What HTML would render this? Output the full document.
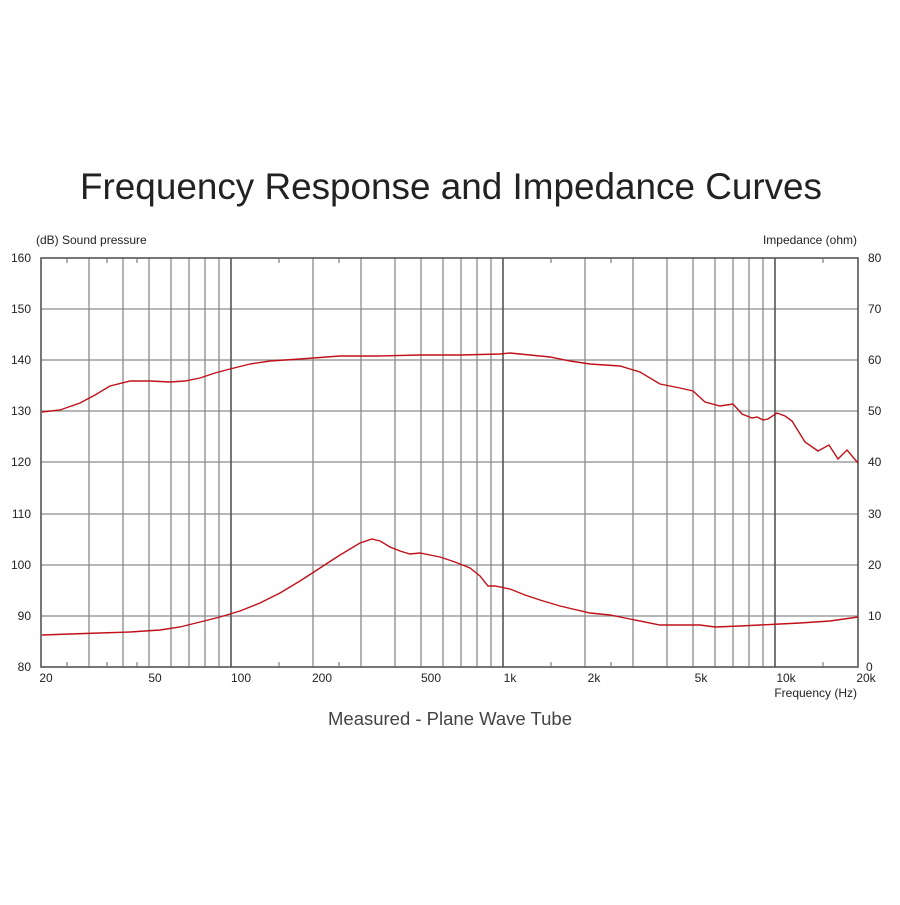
<!DOCTYPE html>
<html><head><meta charset="utf-8"><style>
body{margin:0;background:#fff;width:900px;height:900px;overflow:hidden}
</style></head><body>
<svg width="900" height="900" xmlns="http://www.w3.org/2000/svg" font-family="Liberation Sans, Arial, sans-serif">
<rect width="900" height="900" fill="#fff"/>
<text x="451" y="199" font-size="37" text-anchor="middle" fill="#222" textLength="742" lengthAdjust="spacingAndGlyphs">Frequency Response and Impedance Curves</text>
<g stroke="#8a8a8a" stroke-width="1.3">
<line x1="41" y1="309" x2="858" y2="309"/><line x1="41" y1="360" x2="858" y2="360"/>
<line x1="41" y1="411" x2="858" y2="411"/><line x1="41" y1="462" x2="858" y2="462"/>
<line x1="41" y1="514" x2="858" y2="514"/><line x1="41" y1="565" x2="858" y2="565"/>
<line x1="41" y1="616" x2="858" y2="616"/>
<line x1="89" y1="258" x2="89" y2="667"/><line x1="123" y1="258" x2="123" y2="667"/><line x1="149" y1="258" x2="149" y2="667"/><line x1="171" y1="258" x2="171" y2="667"/><line x1="189" y1="258" x2="189" y2="667"/><line x1="205" y1="258" x2="205" y2="667"/><line x1="219" y1="258" x2="219" y2="667"/>
<line x1="313" y1="258" x2="313" y2="667"/><line x1="361" y1="258" x2="361" y2="667"/><line x1="395" y1="258" x2="395" y2="667"/><line x1="421" y1="258" x2="421" y2="667"/><line x1="443" y1="258" x2="443" y2="667"/><line x1="461" y1="258" x2="461" y2="667"/><line x1="477" y1="258" x2="477" y2="667"/><line x1="491" y1="258" x2="491" y2="667"/>
<line x1="585" y1="258" x2="585" y2="667"/><line x1="633" y1="258" x2="633" y2="667"/><line x1="667" y1="258" x2="667" y2="667"/><line x1="693" y1="258" x2="693" y2="667"/><line x1="715" y1="258" x2="715" y2="667"/><line x1="733" y1="258" x2="733" y2="667"/><line x1="749" y1="258" x2="749" y2="667"/><line x1="763" y1="258" x2="763" y2="667"/>
</g>
<g stroke="#555" stroke-width="1.6">
<line x1="231" y1="258" x2="231" y2="667"/><line x1="503" y1="258" x2="503" y2="667"/><line x1="775" y1="258" x2="775" y2="667"/>
<rect x="41" y="258" width="817" height="409" fill="none"/>
</g>
<g stroke="#666" stroke-width="1">
<line x1="67" y1="258" x2="67" y2="263"/><line x1="107" y1="258" x2="107" y2="263"/><line x1="137" y1="258" x2="137" y2="263"/>
<line x1="67" y1="667" x2="67" y2="662"/><line x1="107" y1="667" x2="107" y2="662"/><line x1="137" y1="667" x2="137" y2="662"/>
<line x1="279" y1="258" x2="279" y2="263"/><line x1="339" y1="258" x2="339" y2="263"/><line x1="279" y1="667" x2="279" y2="662"/><line x1="339" y1="667" x2="339" y2="662"/>
<line x1="551" y1="258" x2="551" y2="263"/><line x1="611" y1="258" x2="611" y2="263"/><line x1="551" y1="667" x2="551" y2="662"/><line x1="611" y1="667" x2="611" y2="662"/>
<line x1="823" y1="258" x2="823" y2="263"/><line x1="823" y1="667" x2="823" y2="662"/>
</g>
<g fill="none" stroke="#c0101a" stroke-width="1.4">
<polyline points="42,412 60,410 80,403 95,395 110,386 130,381 150,381 170,382 185,381 200,378 215,373 230,369 250,364 270,361 300,359 340,356 380,356 420,355 460,355 500,354 510,353 530,355 550,357 570,361 590,364 620,366 640,372 660,384 680,388 693,391 705,402 720,406 733,404 742,414 752,418 757,417 763,420 768,419 777,413 785,416 792,421 805,442 818,451 829,445 838,459 847,450 858,463"/>
<polyline points="42,635 70,634 100,633 130,632 160,630 180,627 200,622 220,617 240,611 260,603 280,593 300,581 320,568 340,555 360,543 372,539 380,541 390,547 400,551 410,554 420,553 430,555 440,557 455,562 470,568 480,576 488,586 495,586 510,589 525,595 540,600 560,606 590,613 610,615 630,619 660,625 700,625 715,627 740,626 760,625 780,624 800,623 830,621 858,617"/>
</g>
<g font-size="12" fill="#222">
<text x="36" y="244">(dB)  Sound pressure</text>
<text x="857" y="244" text-anchor="end">Impedance  (ohm)</text>
<g text-anchor="end">
<text x="31" y="262">160</text><text x="31" y="313">150</text><text x="31" y="364">140</text><text x="31" y="415">130</text><text x="31" y="466">120</text><text x="31" y="518">110</text><text x="31" y="569">100</text><text x="31" y="620">90</text><text x="31" y="671">80</text>
</g>
<text x="868" y="262">80</text><text x="868" y="313">70</text><text x="868" y="364">60</text><text x="868" y="415">50</text><text x="868" y="466">40</text><text x="868" y="518">30</text><text x="868" y="569">20</text><text x="868" y="620">10</text><text x="866" y="671">0</text>
<g text-anchor="middle">
<text x="46" y="682">20</text><text x="155" y="682">50</text><text x="241" y="682">100</text><text x="322" y="682">200</text><text x="431" y="682">500</text><text x="510" y="682">1k</text><text x="594" y="682">2k</text><text x="701" y="682">5k</text><text x="786" y="682">10k</text><text x="866" y="682">20k</text>
</g>
<text x="857" y="697" text-anchor="end">Frequency  (Hz)</text>
</g>
<text x="450" y="725" font-size="18" text-anchor="middle" fill="#444" textLength="244" lengthAdjust="spacingAndGlyphs">Measured - Plane Wave Tube</text>
</svg>
</body></html>
